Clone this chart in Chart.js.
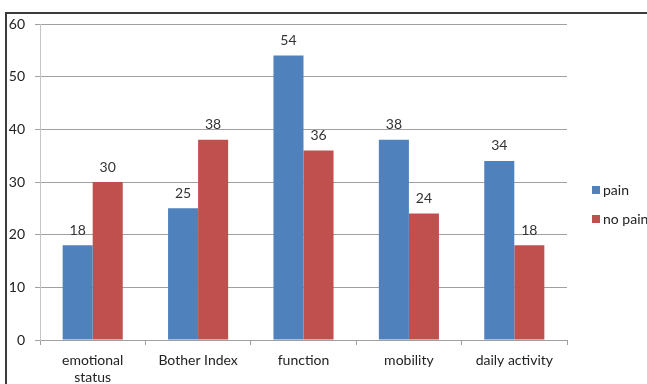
<!DOCTYPE html>
<html>
<head>
<meta charset="utf-8">
<script src="https://cdn.jsdelivr.net/npm/chart.js@4"></script>
<style>
  html, body { margin: 0; padding: 0; background: #fff; overflow: hidden; }
  #frame { position: absolute; left: 5px; top: 12px; width: 700px; height: 420px;
           border: 2px solid #3c3c3c; box-sizing: border-box; }
  #wrap { position: absolute; left: 0; top: 0; width: 680px; height: 400px; }
</style>
</head>
<body>
<div id="frame"></div>
<div id="wrap"><canvas id="c" width="680" height="400"></canvas></div>
<script>
// Questionnaire domains and mean scores per group
const categories = [['emotional', 'status'], 'Bother Index', 'function', 'mobility', 'daily activity'];
const painScores = [18, 25, 54, 38, 34];
const noPainScores = [30, 38, 36, 24, 18];
const seriesNames = ['pain', 'no pain'];
const seriesColors = ['#4F81BD', '#C0504D'];
const yTicks = [0, 10, 20, 30, 40, 50, 60];

const FONT = 'Lato, "Open Sans", sans-serif';

// Value labels above each bar
const valueLabels = {
  id: 'valueLabels',
  afterDatasetsDraw(chart) {
    const ctx = chart.ctx;
    ctx.save();
    ctx.font = '14px ' + FONT;
    ctx.fillStyle = '#333';
    ctx.textAlign = 'center';
    ctx.textBaseline = 'middle';
    chart.data.datasets.forEach((ds, i) => {
      chart.getDatasetMeta(i).data.forEach((bar, j) => {
        ctx.fillText(String(ds.data[j]), bar.x, bar.y - 15);
      });
    });
    ctx.restore();
  }
};

// Legend stacked to the right of the plot
const sideLegend = {
  id: 'sideLegend',
  afterDraw(chart) {
    const ctx = chart.ctx;
    const area = chart.chartArea;
    const x = area.right + 25;
    let y = area.top + 166;
    ctx.save();
    ctx.font = '14px ' + FONT;
    ctx.textAlign = 'left';
    ctx.textBaseline = 'middle';
    chart.data.datasets.forEach(ds => {
      ctx.fillStyle = ds.backgroundColor;
      ctx.fillRect(x, y - 4, 8, 8);
      ctx.fillStyle = '#222';
      ctx.fillText(ds.label, x + 11, y);
      y += 29;
    });
    ctx.restore();
  }
};

new Chart(document.getElementById('c'), {
  type: 'bar',
  data: {
    labels: categories,
    datasets: [
      { label: seriesNames[0], data: painScores, backgroundColor: seriesColors[0] },
      { label: seriesNames[1], data: noPainScores, backgroundColor: seriesColors[1] }
    ]
  },
  options: {
    responsive: false,
    animation: false,
    devicePixelRatio: 1,
    datasets: { bar: { barPercentage: 1, categoryPercentage: 0.57 } },
    layout: { padding: { left: 0, top: 24, right: 113, bottom: 0 } },
    plugins: { legend: { display: false }, tooltip: { enabled: false } },
    scales: {
      x: {
        grid: { offset: true, drawOnChartArea: false, drawTicks: true, tickLength: 5, color: '#a0a0a0' },
        border: { color: '#a0a0a0' },
        ticks: { padding: 7, color: '#222', font: { family: FONT, size: 14, lineHeight: '17px' }, maxRotation: 0 },
        afterFit(s) { s.height = 60; }
      },
      y: {
        min: 0, max: 60,
        afterBuildTicks(s) { s.ticks = yTicks.map(v => ({ value: v })); },
        grid: { color: '#a0a0a0', tickLength: 5 },
        border: { color: '#c4c4c4' },
        ticks: { padding: 10, color: '#222', font: { family: FONT, size: 14 } },
        afterFit(s) { s.width = 40; }
      }
    }
  },
  plugins: [valueLabels, sideLegend]
});
</script>
</body>
</html>
